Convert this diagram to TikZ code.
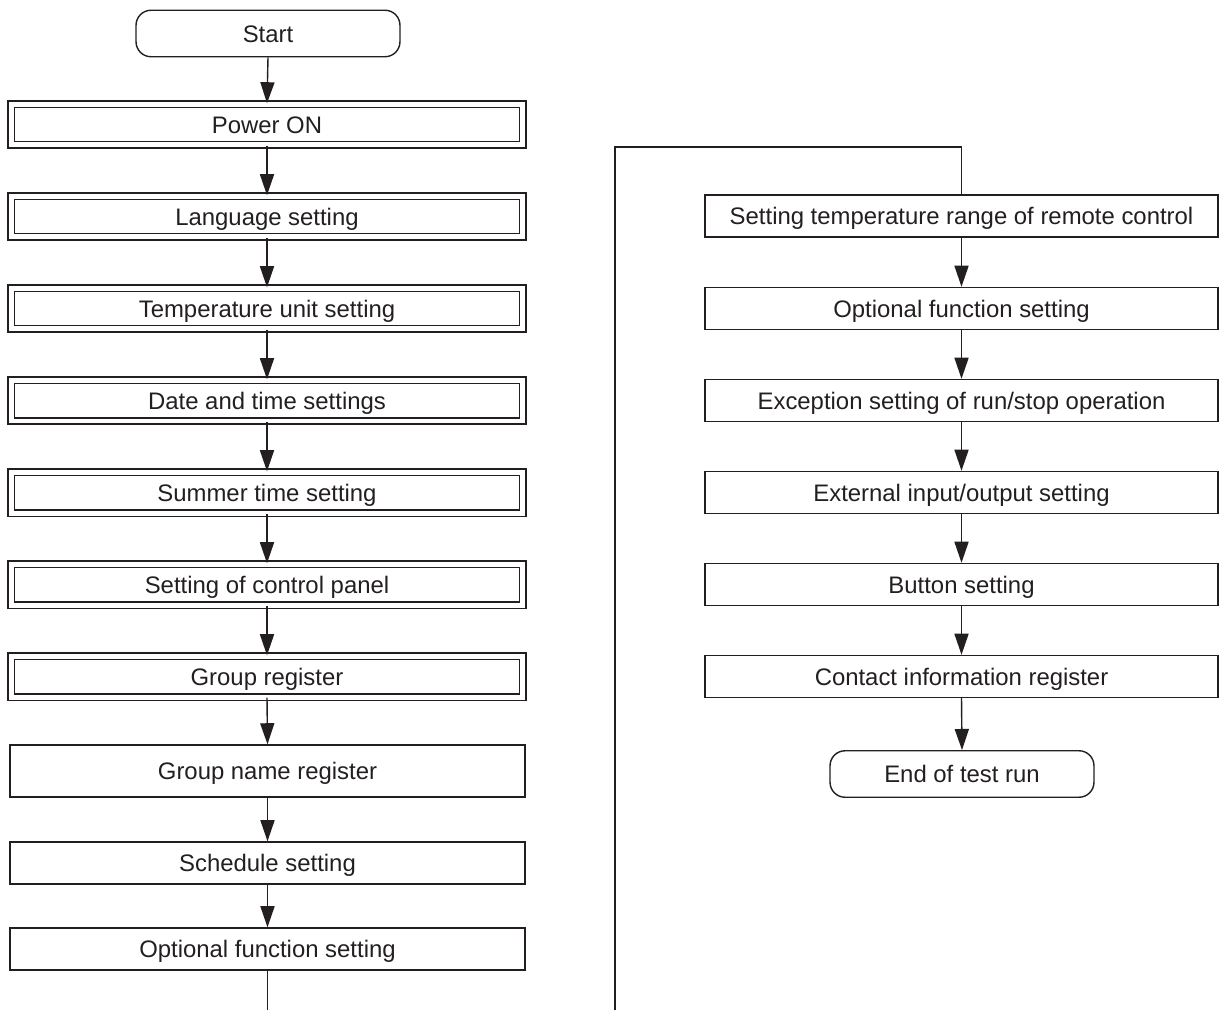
\documentclass[tikz,border=0pt]{standalone}
\usepackage{fontspec}
\setmainfont{Liberation Sans}
\usetikzlibrary{arrows.meta}
\definecolor{ink}{HTML}{231F20}
\begin{document}
\begin{tikzpicture}[x=0.02cm,y=0.02cm,line width=0.8pt,color=ink,
    every node/.style={font=\fontsize{13.6}{16}\selectfont,text height=9.8pt,text depth=0pt},
    endbox/.style={draw,rounded corners=0.3cm,minimum width=5.28cm,minimum height=0.93cm},
    dbox/.style={draw,double,double distance=0.1cm,minimum width=10.24cm,minimum height=0.82cm},
    sbox/.style={draw,minimum width=10.3cm,minimum height=0.84cm},
    flow/.style={-{Triangle[length=12pt,width=8pt]}}]
    \useasboundingbox (0,0) rectangle (1219,-1010);
    % left column
    \node[endbox] (start) at (268,-33.5) {Start};
    \node[dbox] (power) at (267,-124.5) {Power ON};
    \node[dbox] (lang) at (267,-216.5) {Language setting};
    \node[dbox] (unit) at (267,-308.5) {Temperature unit setting};
    \node[dbox] (date) at (267,-400.5) {Date and time settings};
    \node[dbox] (summer) at (267,-492.5) {Summer time setting};
    \node[dbox] (panel) at (267,-584.5) {Setting of control panel};
    \node[dbox] (group) at (267,-676.5) {Group register};
    \node[sbox,minimum height=1.04cm] (gname) at (267.5,-771) {Group name register};
    \node[sbox] (sched) at (267.5,-863) {Schedule setting};
    \node[sbox] (optL) at (267.5,-949) {Optional function setting};
    % right column
    \node[sbox,minimum width=10.26cm] (range) at (961.5,-216) {Setting temperature range of remote control};
    \node[sbox,minimum width=10.26cm] (optR) at (961.5,-308.5) {Optional function setting};
    \node[sbox,minimum width=10.26cm] (except) at (961.5,-400.5) {Exception setting of run/stop operation};
    \node[sbox,minimum width=10.26cm] (extio) at (961.5,-492.5) {External input/output setting};
    \node[sbox,minimum width=10.26cm] (button) at (961.5,-584.5) {Button setting};
    \node[sbox,minimum width=10.26cm] (contact) at (961.5,-676.5) {Contact information register};
    \node[endbox] (finish) at (962,-774) {End of test run};
    % connectors
    \foreach \a/\b in {start/power,power/lang,lang/unit,unit/date,date/summer,summer/panel,
        panel/group,group/gname,gname/sched,sched/optL,
        range/optR,optR/except,except/extio,extio/button,button/contact,contact/finish}
        \draw[flow] (\a.south) -- (\b.north);
    \coordinate (cutL) at (267.5,-1010);
    \coordinate (cutR) at (615,-1010);
    \coordinate (turn) at (961.5,-147);
    \draw (optL.south) -- (cutL);
    \draw (cutR) |- (turn) -- (range.north);
\end{tikzpicture}
\end{document}
